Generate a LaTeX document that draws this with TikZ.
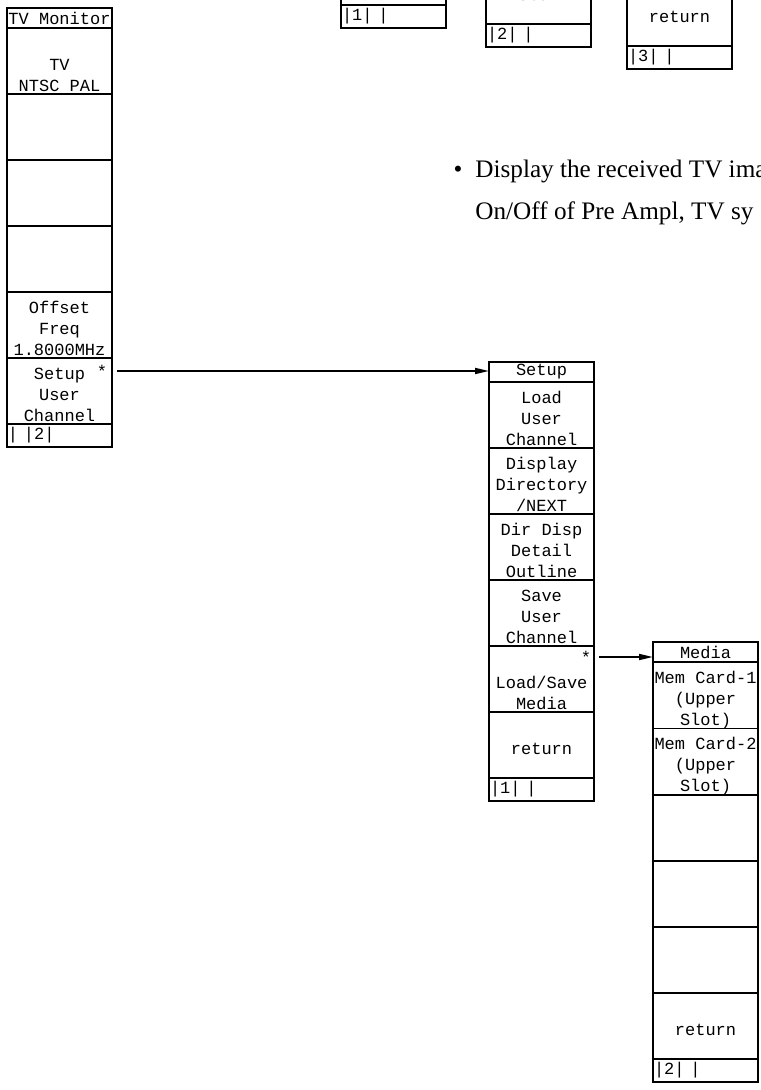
\documentclass[tikz,border=0pt]{standalone}
\usepackage{fontspec}
\setmainfont{Liberation Serif}
\setmonofont{Liberation Mono}
\usepackage{tikz}
\usetikzlibrary{positioning,arrows.meta}
\newcommand{\keyfont}{\ttfamily\fontsize{8.5}{10.5}\selectfont}
\newcommand{\kt}[3]{\rule{0pt}{10.5pt}#1\\#2\\#3\rule[-1pt]{0pt}{1pt}}

\begin{document}
\begin{tikzpicture}[
    x=0.5pt,y=-0.5pt,
    title/.style={rectangle,draw=black,line width=0.8pt,outer sep=0pt,minimum width=52.5pt,minimum height=10pt,inner sep=0pt,font=\keyfont},
    key/.style={rectangle,draw=black,line width=0.8pt,outer sep=0pt,minimum width=52.5pt,minimum height=33pt,inner sep=0pt,align=center,font=\keyfont},
    pagerow/.style={rectangle,draw=black,line width=0.8pt,outer sep=0pt,text width=51.5pt,inner xsep=0.5pt,inner ysep=0pt,minimum height=11.5pt,align=left,font=\keyfont},
    star/.style={inner sep=0pt,font=\keyfont},
    arrow/.style={-{Triangle[length=7pt,width=3pt]},line width=0.9pt,shorten <=2.5pt},
    note/.style={inner sep=0pt,font=\fontsize{12.6}{16}\selectfont}
]
\useasboundingbox (0,0) rectangle (760,1090);
\clip (0,0) rectangle (760,1090);

% menus cut off at the top
\node[key] (A1) at (393.5,-28) {\kt{}{}{}};
\node[pagerow,below=0pt of A1] (A2) {|1| |};
\node[key] (B1) at (538.5,-9) {\kt{}{return}{}};
\node[pagerow,below=0pt of B1] (B2) {|2| |};
\node[key] (C1) at (679.5,13) {\kt{}{return}{}};
\node[pagerow,below=0pt of C1] (C2) {|3| |};

\node[note,anchor=base] (bul) at (458,178) {•};
\node[note,anchor=base west] (d1) at (475,178) {Display the received TV ima};
\node[note,anchor=base west] (d2) at (475,220) {On/Off of Pre Ampl, TV sy};

% TV monitor menu
\node[title] (L0) at (59.5,18) {TV Monitor};
\node[key,below=0pt of L0] (L1) {\kt{}{TV}{NTSC PAL}};
\node[key,below=0pt of L1] (L2) {\kt{}{}{}};
\node[key,below=0pt of L2] (L3) {\kt{}{}{}};
\node[key,below=0pt of L3] (L4) {\kt{}{}{}};
\node[key,below=0pt of L4] (L5) {\kt{Offset}{Freq}{1.8000MHz}};
\node[key,below=0pt of L5] (L6) {\kt{Setup}{User}{Channel}};
\node[pagerow,below=0pt of L6] (L7) {| |2|};
\node[star] (Lstar) at ([xshift=-5pt,yshift=-6.5pt]L6.north east) {*};

% setup menu
\node[title] (S0) at (541.5,372) {Setup};
\node[key,below=0pt of S0] (S1) {\kt{Load}{User}{Channel}};
\node[key,below=0pt of S1] (S2) {\kt{Display}{Directory}{/NEXT}};
\node[key,below=0pt of S2] (S3) {\kt{Dir Disp}{Detail}{Outline}};
\node[key,below=0pt of S3] (S4) {\kt{Save}{User}{Channel}};
\node[key,below=0pt of S4] (S5) {\kt{}{Load/Save}{Media}};
\node[key,below=0pt of S5] (S6) {\kt{}{return}{}};
\node[pagerow,below=0pt of S6] (S7) {|1| |};
\node[star] (Sstar) at ([xshift=-4pt,yshift=-5.5pt]S5.north east) {*};

% media menu
\node[title] (M0) at (705.5,652) {Media};
\node[key,below=0pt of M0] (M1) {\kt{Mem Card-1}{(Upper}{Slot)}};
\node[key,below=0pt of M1] (M2) {\kt{Mem Card-2}{(Upper}{Slot)}};
\node[key,below=0pt of M2] (M3) {\kt{}{}{}};
\node[key,below=0pt of M3] (M4) {\kt{}{}{}};
\node[key,below=0pt of M4] (M5) {\kt{}{}{}};
\node[key,below=0pt of M5] (M6) {\kt{}{return}{}};
\node[pagerow,below=0pt of M6] (M7) {|2| |};

\draw[arrow] (L6.east |- Lstar) -- (Lstar -| S0.west);
\draw[arrow] (S5.east |- Sstar) -- (Sstar -| M0.west);

\end{tikzpicture}
\end{document}
